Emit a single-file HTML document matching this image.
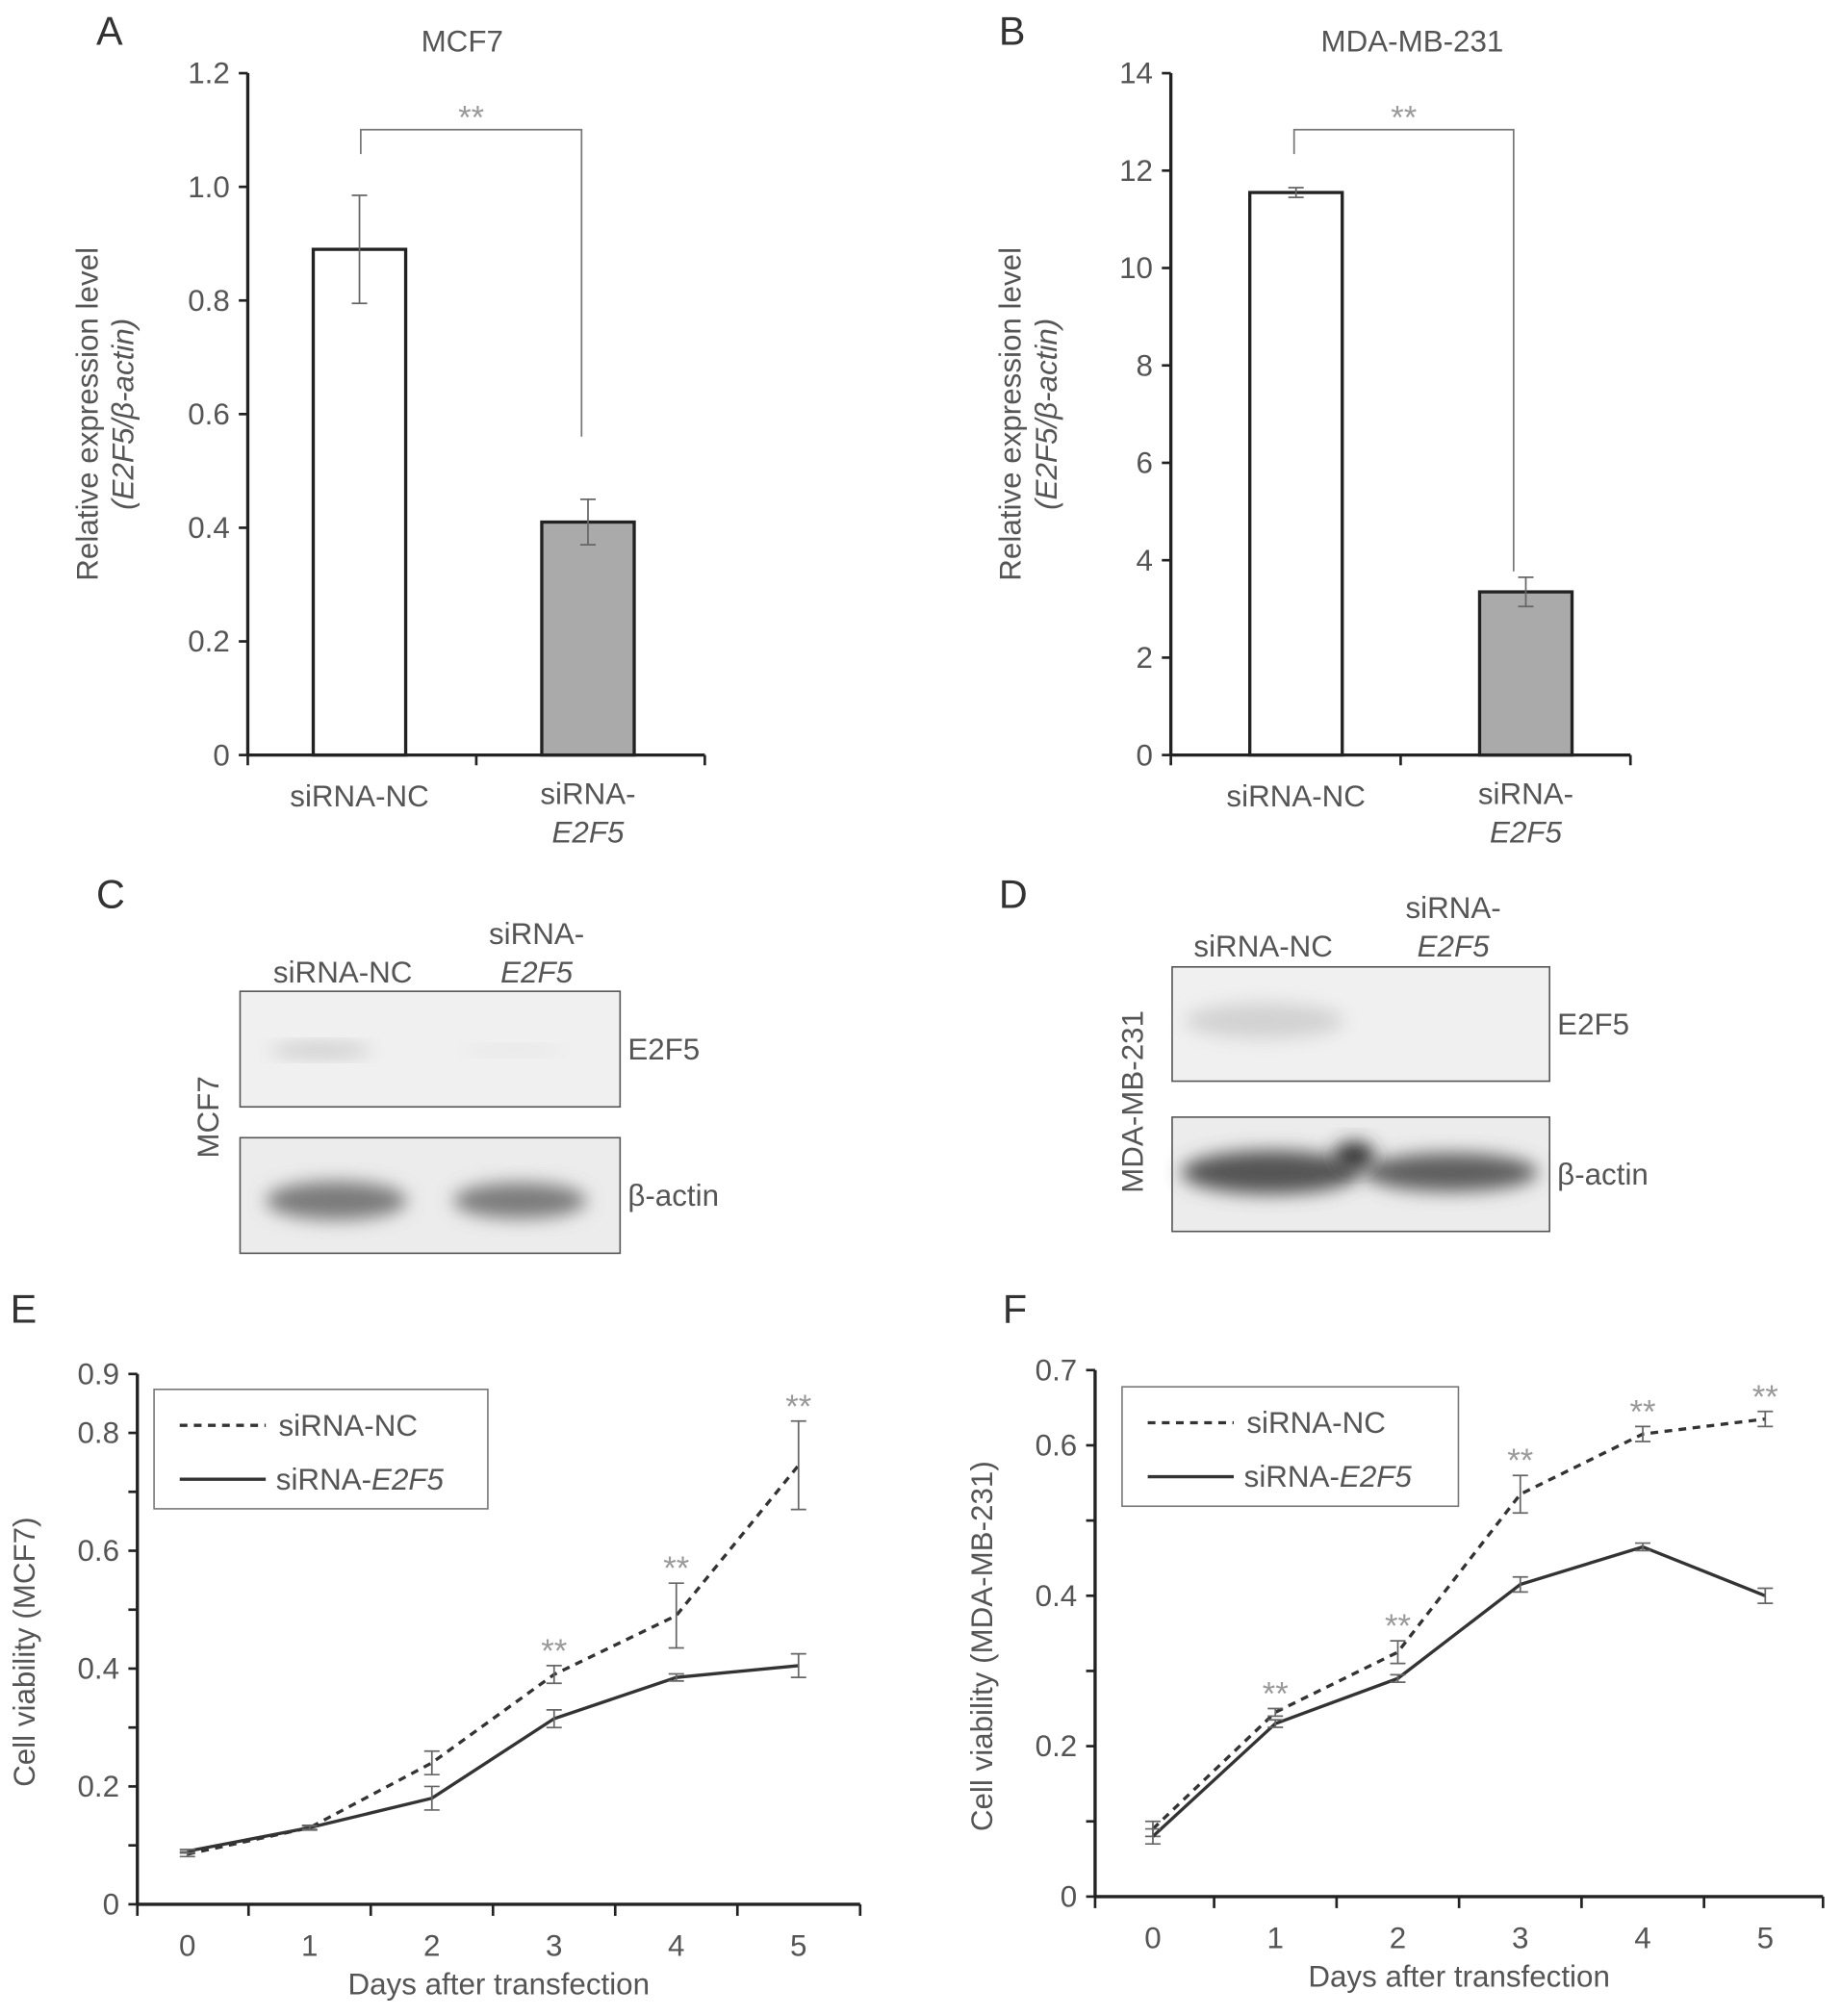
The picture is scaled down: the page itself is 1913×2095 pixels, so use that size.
<!DOCTYPE html>
<html><head><meta charset="utf-8">
<style>
html,body{margin:0;padding:0;background:#fff;}
svg{display:block;font-family:"Liberation Sans",sans-serif;}
.t{fill:#555;font-size:23.5px;}
.lt{fill:#333;font-size:31px;}
</style></head>
<body>
<svg id="fig" width="1913" height="2095" viewBox="0 0 1434 1570" preserveAspectRatio="none" xmlns="http://www.w3.org/2000/svg">
<defs>
<filter id="blur" x="-50%" y="-50%" width="200%" height="200%"><feGaussianBlur stdDeviation="7"/></filter>
</defs>
<g id="root"></g>
</svg>
<script>
// ---- Panel A data ----
const aCats = ["siRNA-NC", "siRNA-E2F5"];
const aVals = [0.89, 0.41];
const aErrs = [0.095, 0.04];
const aTicks = [0, 0.2, 0.4, 0.6, 0.8, 1.0, 1.2];
// ---- Panel B data ----
const bCats = ["siRNA-NC", "siRNA-E2F5"];
const bVals = [11.55, 3.35];
const bErrs = [0.1, 0.3];
const bTicks = [0, 2, 4, 6, 8, 10, 12, 14];
// ---- Panel E data ----
const eDays = [0, 1, 2, 3, 4, 5];
const eNC = [0.085, 0.13, 0.24, 0.39, 0.49, 0.745];
const eNCerr = [0.004, 0.004, 0.02, 0.015, 0.055, 0.075];
const eKD = [0.09, 0.13, 0.18, 0.315, 0.385, 0.405];
const eKDerr = [0.003, 0.003, 0.02, 0.015, 0.006, 0.02];
const eStars = [3, 4, 5];
const eTicks = [0, 0.2, 0.4, 0.6, 0.8, 0.9];
// ---- Panel F data ----
const fDays = [0, 1, 2, 3, 4, 5];
const fNC = [0.09, 0.245, 0.325, 0.535, 0.615, 0.635];
const fNCerr = [0.01, 0.005, 0.015, 0.025, 0.01, 0.01];
const fKD = [0.08, 0.23, 0.29, 0.415, 0.465, 0.4];
const fKDerr = [0.01, 0.005, 0.005, 0.01, 0.005, 0.01];
const fStars = [1, 2, 3, 4, 5];
const fTicks = [0, 0.2, 0.4, 0.6, 0.7];

const NS = "http://www.w3.org/2000/svg";
const root = document.getElementById("root");
function el(tag, attrs, parent, text) {
  const e = document.createElementNS(NS, tag);
  for (const k in attrs) e.setAttribute(k, attrs[k]);
  if (text !== undefined) e.textContent = text;
  (parent || root).appendChild(e);
  return e;
}
function fmt(v, dec) { return v === 0 ? "0" : v.toFixed(dec); }

function letter(txt, x, y) {
  const t = el("text", {x: x, y: y, class: "lt"}, root, txt);
  
  
}

function barChart(o) {
  const g = el("g", {});
  
  
  const y = v => o.y0 - (v / o.max) * (o.y0 - o.yTop);
  const title = el("text", {x: o.titleX, y: 40, class: "t", "text-anchor": "middle"}, g, o.title);
  
  
  el("line", {x1: o.x0, y1: o.yTop, x2: o.x0, y2: o.y0, stroke: "#222", "stroke-width": 2.5}, g);
  el("line", {x1: o.x0, y1: o.y0, x2: o.x1, y2: o.y0, stroke: "#222", "stroke-width": 2.5}, g);
  [o.x0, (o.x0 + o.x1) / 2, o.x1].forEach(x => el("line", {x1: x, y1: o.y0, x2: x, y2: o.y0 + 8, stroke: "#222", "stroke-width": 2}, g));
  o.ticks.forEach(t => {
    el("line", {x1: o.x0 - 7, y1: y(t), x2: o.x0, y2: y(t), stroke: "#222", "stroke-width": 2}, g);
    const lab = el("text", {x: o.x0 - 14, y: y(t) + 8, class: "t", "text-anchor": "end"}, g, fmt(t, o.dec));
    
    
  });
  const yt = el("text", {transform: `translate(${o.x0 - 117},${(o.yTop + o.y0) / 2}) rotate(-90)`, class: "t", "text-anchor": "middle"}, g, "Relative expression level");
  
  
  const yt2 = el("text", {transform: `translate(${o.x0 - 89},${(o.yTop + o.y0) / 2}) rotate(-90)`, class: "t", "text-anchor": "middle", "font-style": "italic"}, g, "(E2F5/β-actin)");
  
  
  const cw = (o.x1 - o.x0) / 2;
  o.vals.forEach((v, i) => {
    const cx = o.x0 + cw * (i + 0.5) + o.barOff;
    const bar = el("rect", {x: cx - 36, y: y(v), width: 72, height: o.y0 - y(v), fill: i ? "#aaaaaa" : "#fff", stroke: "#222", "stroke-width": 2.5}, g);
    
    
    const e = o.errs[i];
    el("path", {d: `M${cx} ${y(v + e)}V${y(v - e)}M${cx - 6} ${y(v + e)}H${cx + 6}M${cx - 6} ${y(v - e)}H${cx + 6}`, stroke: "#666", "stroke-width": 1.3, fill: "none"}, g);
    if (i === 0) {
      const l = el("text", {x: cx, y: o.y0 + 40, class: "t", "text-anchor": "middle"}, g, "siRNA-NC");
      
      
    } else {
      const l = el("text", {x: cx, y: o.y0 + 38, class: "t", "text-anchor": "middle"}, g, "siRNA-");
      
      
      el("text", {x: cx, y: o.y0 + 68, class: "t", "text-anchor": "middle", "font-style": "italic"}, g, "E2F5");
    }
  });
  const bx1 = o.bx1, bx2 = o.bx2;
  const br = el("path", {d: `M${bx1} ${o.bL}V101H${bx2}V${o.bR}`, stroke: "#777", "stroke-width": 1.3, fill: "none"}, g);
  
  
  el("text", {x: (bx1 + bx2) / 2, y: 100, "font-size": 26, "text-anchor": "middle", fill: "#999"}, g, "**");
}

barChart({name: "chart-a-mcf7", title: "MCF7", titleX: 360, x0: 193, x1: 549, yTop: 57, y0: 588, max: 1.2, ticks: aTicks, dec: 1, vals: aVals, errs: aErrs, barOff: -2, bx1: 281, bx2: 453, bL: 120, bR: 340});
barChart({name: "chart-b-mda", title: "MDA-MB-231", titleX: 1100, x0: 912, x1: 1270, yTop: 57, y0: 588, max: 14, ticks: bTicks, dec: 0, vals: bVals, errs: bErrs, barOff: 8, bx1: 1008, bx2: 1179, bL: 120, bR: 445});

function blot(o) {
  const g = el("g", {});
  
  
  const top = el("rect", {x: o.x, y: o.y1, width: o.w, height: o.h, fill: "#f0f0f0", stroke: "#555", "stroke-width": 1.2}, g);
  
  
  const bot = el("rect", {x: o.x, y: o.y2, width: o.w, height: o.h, fill: "#ececec", stroke: "#555", "stroke-width": 1.2}, g);
  
  
  o.bands.forEach(b => el("ellipse", {cx: b[0], cy: b[1], rx: b[2], ry: b[3], fill: b[4], filter: "url(#blur)"}, g));
  const l1 = el("text", {x: o.l1x, y: o.ly, class: "t", "text-anchor": "middle"}, g, "siRNA-NC");
  
  
  const l2 = el("text", {x: o.l2x, y: o.ly - 30, class: "t", "text-anchor": "middle"}, g, "siRNA-");
  
  
  el("text", {x: o.l2x, y: o.ly, class: "t", "text-anchor": "middle", "font-style": "italic"}, g, "E2F5");
  el("text", {x: o.x + o.w + 6, y: o.y1 + o.h / 2 + 8, class: "t"}, g, "E2F5");
  el("text", {x: o.x + o.w + 6, y: o.y2 + o.h / 2 + 8, class: "t"}, g, "β-actin");
  const cl = el("text", {transform: `translate(${o.cx},${o.cy}) rotate(-90)`, class: "t", "text-anchor": "middle"}, g, o.cell);
  
  
}
blot({name: "blot-c-mcf7", x: 187, w: 296, h: 90, y1: 772, y2: 886, l1x: 267, l2x: 418, ly: 765, cx: 170, cy: 870, cell: "MCF7",
  bands: [[250, 818, 40, 5, "#c6c6c6"], [400, 818, 40, 3, "#e2e2e2"], [262, 935, 55, 15, "#7a7a7a"], [405, 935, 52, 14, "#7c7c7c"]]});
blot({name: "blot-d-mda", x: 913, w: 294, h: 89, y1: 753, y2: 870, l1x: 984, l2x: 1132, ly: 745, cx: 890, cy: 858, cell: "MDA-MB-231",
  bands: [[985, 795, 62, 14, "#d2d2d2"], [990, 913, 70, 17, "#555"], [1130, 913, 68, 15, "#5e5e5e"], [1055, 900, 16, 11, "#333"]]});

letter("A", 75, 35); letter("B", 778, 35); letter("C", 75, 707); letter("D", 778, 707); letter("E", 8, 1030); letter("F", 781, 1030);

function lineChart(o) {
  const g = el("g", {});
  
  
  const y = v => o.y0 - (v / o.max) * (o.y0 - o.yTop);
  const x = d => o.xd0 + d * o.dx;
  el("line", {x1: o.x0, y1: o.yTop, x2: o.x0, y2: o.y0, stroke: "#222", "stroke-width": 2.5}, g);
  el("line", {x1: o.x0, y1: o.y0, x2: o.x1, y2: o.y0, stroke: "#222", "stroke-width": 2.5}, g);
  for (let i = 0; i <= 6; i++) {
    const xx = i === 0 ? o.x0 : (i === 6 ? o.x1 : x(i - 1) + o.dx / 2);
    el("line", {x1: xx, y1: o.y0, x2: xx, y2: o.y0 + 9, stroke: "#222", "stroke-width": 2}, g);
  }
  for (let v = 0; v <= o.max + 1e-9; v += 0.1) el("line", {x1: o.x0 - 7, y1: y(v), x2: o.x0, y2: y(v), stroke: "#222", "stroke-width": 2}, g);
  o.ticks.forEach(t => {
    const lab = el("text", {x: o.x0 - 14, y: y(t) + 8, class: "t", "text-anchor": "end"}, g, fmt(t, 1));
    
    
  });
  o.days.forEach(d => {
    const lab = el("text", {x: x(d), y: o.y0 + 40, class: "t", "text-anchor": "middle"}, g, String(d));
    
    
  });
  const xt = el("text", {x: (o.x0 + o.x1) / 2, y: o.y0 + 70, class: "t", "text-anchor": "middle"}, g, "Days after transfection");
  
  
  const yt = el("text", {transform: `translate(${o.x0 - 80},${(o.yTop + o.y0) / 2 + 10}) rotate(-90)`, class: "t", "text-anchor": "middle"}, g, o.ytitle);
  
  
  [[o.nc, o.ncErr, "6 5", "series-sirna-nc"], [o.kd, o.kdErr, "", "series-sirna-e2f5"]].forEach(s => {
    const p = el("polyline", {points: o.days.map((d, i) => x(d) + "," + y(s[0][i])).join(" "), fill: "none", stroke: "#333", "stroke-width": 2.5, "stroke-dasharray": s[2]}, g);
    
    
    o.days.forEach((d, i) => {
      const v = s[0][i], e = s[1][i], cx = x(d);
      el("path", {d: `M${cx} ${y(v + e)}V${y(v - e)}M${cx - 6} ${y(v + e)}H${cx + 6}M${cx - 6} ${y(v - e)}H${cx + 6}`, stroke: "#666", "stroke-width": 1.3, fill: "none"}, g);
    });
  });
  o.stars.forEach(d => {
    const i = o.days.indexOf(d);
    const st = el("text", {x: x(d), y: y(o.nc[i] + o.ncErr[i]) - 3, "font-size": 26, "text-anchor": "middle", fill: "#999"}, g, "**");
    
    
  });
  const lg = el("g", {}, g);
  
  
  el("rect", {x: o.lx, y: o.ly, width: o.lw, height: 93, fill: "#fff", stroke: "#777", "stroke-width": 1.2}, lg);
  el("line", {x1: o.lx + 20, y1: o.ly + 28, x2: o.lx + 87, y2: o.ly + 28, stroke: "#333", "stroke-width": 2.5, "stroke-dasharray": "6 5"}, lg);
  el("line", {x1: o.lx + 20, y1: o.ly + 70, x2: o.lx + 87, y2: o.ly + 70, stroke: "#333", "stroke-width": 2.5}, lg);
  const e1 = el("text", {x: o.lx + 97, y: o.ly + 36, class: "t"}, lg, "siRNA-NC");
  
  
  const e2 = el("text", {x: o.lx + 95, y: o.ly + 78, class: "t"}, lg);
  
  
  el("tspan", {}, e2, "siRNA-");
  el("tspan", {"font-style": "italic"}, e2, "E2F5");
}
lineChart({name: "chart-e-mcf7", x0: 107, x1: 670, xd0: 146, dx: 95.2, yTop: 1070, y0: 1483, max: 0.9, ticks: eTicks, days: eDays,
  nc: eNC, ncErr: eNCerr, kd: eKD, kdErr: eKDerr, stars: eStars, ytitle: "Cell viability (MCF7)", lx: 120, ly: 1082, lw: 260});
lineChart({name: "chart-f-mda", x0: 853, x1: 1420, xd0: 898, dx: 95.4, yTop: 1067, y0: 1477, max: 0.7, ticks: fTicks, days: fDays,
  nc: fNC, ncErr: fNCerr, kd: fKD, kdErr: fKDerr, stars: fStars, ytitle: "Cell viability (MDA-MB-231)", lx: 874, ly: 1080, lw: 262});
</script>
</body></html>
